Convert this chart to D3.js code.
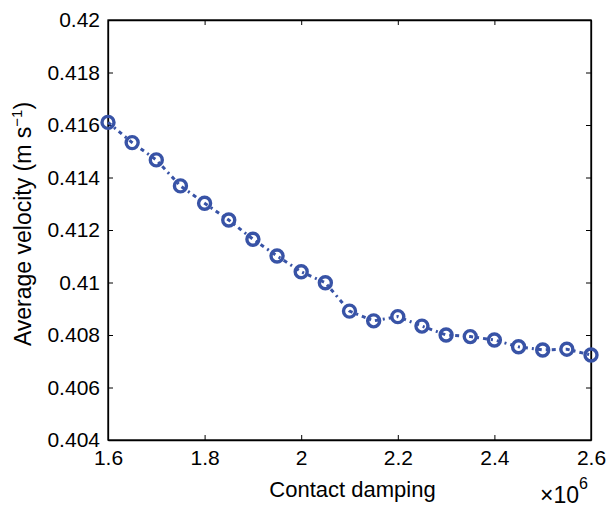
<!DOCTYPE html>
<html>
<head>
<meta charset="utf-8">
<script src="https://cdn.jsdelivr.net/npm/d3@7"></script>
<style>
  body { margin: 0; background: #fff; }
  text { font-family: "Liberation Sans", Arial, Helvetica, sans-serif; fill: #000; }
</style>
</head>
<body>
<div id="chart"></div>
<script>
// contact damping (x 1e6) and average velocity (m/s)
var damping = [1.6, 1.65, 1.7, 1.75, 1.8, 1.85, 1.9, 1.95, 2.0, 2.05, 2.1,
               2.15, 2.2, 2.25, 2.3, 2.35, 2.4, 2.45, 2.5, 2.55, 2.6];
var velocity = [0.4161, 0.41533, 0.41467, 0.41368, 0.41302, 0.41238, 0.41165,
                0.41101, 0.41041, 0.40999, 0.40891, 0.40854, 0.40870, 0.40834,
                0.40800, 0.40794, 0.40781, 0.40755, 0.40743, 0.40746, 0.40724];
var xTicks = [1.6, 1.8, 2.0, 2.2, 2.4, 2.6];
var yTicks = [0.404, 0.406, 0.408, 0.41, 0.412, 0.414, 0.416, 0.418, 0.42];

var width = 609, height = 508;
var mLeft = 108, mRight = 591, mTop = 20, mBottom = 440;
var blue = "#3853a6";

var svg = d3.select("#chart").append("svg")
    .attr("width", width)
    .attr("height", height);

var x = d3.scaleLinear().domain([1.6, 2.6]).range([mLeft, mRight]);
var y = d3.scaleLinear().domain([0.404, 0.42]).range([mBottom, mTop]);

var fmt = function(d) { return String(+d.toFixed(3)); };

// axes, ticks pointing inward
svg.append("g")
    .attr("transform", "translate(0," + mBottom + ")")
    .call(d3.axisBottom(x).tickValues(xTicks).tickSizeInner(-5).tickSizeOuter(0)
        .tickPadding(10).tickFormat(d => String(+d.toFixed(1))));
svg.append("g")
    .attr("transform", "translate(0," + mTop + ")")
    .call(d3.axisTop(x).tickValues(xTicks).tickSizeInner(-5).tickSizeOuter(0).tickFormat(""));
svg.append("g")
    .attr("transform", "translate(" + mLeft + ",0)")
    .call(d3.axisLeft(y).tickValues(yTicks).tickSizeInner(-5).tickSizeOuter(0)
        .tickPadding(8).tickFormat(fmt));
svg.append("g")
    .attr("transform", "translate(" + mRight + ",0)")
    .call(d3.axisRight(y).tickValues(yTicks).tickSizeInner(-5).tickSizeOuter(0).tickFormat(""));

svg.selectAll(".domain").attr("stroke", "#000").attr("stroke-width", 1.3);
svg.selectAll(".tick line").attr("stroke", "#000").attr("stroke-width", 1);
svg.selectAll(".tick text")
    .style("font-family", "'Liberation Sans', Arial, sans-serif")
    .style("font-size", "21px")
    .attr("fill", "#000");

// box
svg.append("rect")
    .attr("x", mLeft).attr("y", mTop)
    .attr("width", mRight - mLeft).attr("height", mBottom - mTop)
    .attr("fill", "none").attr("stroke", "#000").attr("stroke-width", 1.3);

var pts = damping.map((d, i) => [d, velocity[i]]);

var line = d3.line().x(d => x(d[0])).y(d => y(d[1]));

svg.append("path")
    .datum(pts)
    .attr("d", line)
    .attr("fill", "none")
    .attr("stroke", blue)
    .attr("stroke-width", 3)
    .attr("stroke-dasharray", "4,4,2,4");

svg.append("g")
    .selectAll("circle")
    .data(pts)
    .enter()
    .append("circle")
    .attr("cx", d => x(d[0]))
    .attr("cy", d => y(d[1]))
    .attr("r", 6)
    .attr("fill", "none")
    .attr("stroke", blue)
    .attr("stroke-width", 3.4);

// labels
svg.append("text")
    .attr("x", (mLeft + mRight) / 2 + 3)
    .attr("y", 497)
    .attr("text-anchor", "middle")
    .style("font-size", "22px")
    .text("Contact damping");

var ylab = svg.append("text")
    .attr("transform", "translate(31,224) rotate(-90)")
    .attr("text-anchor", "middle")
    .style("font-size", "23px");
ylab.append("tspan").text("Average velocity (m s");
ylab.append("tspan").attr("dy", -9).style("font-size", "15px").text("\u22121");
ylab.append("tspan").attr("dy", 9).text(")");

var mult = svg.append("text")
    .attr("x", 540)
    .attr("y", 503)
    .style("font-size", "23px");
mult.append("tspan").text("\u00d710");
mult.append("tspan").attr("dy", -14).style("font-size", "16px").text("6");
</script>
</body>
</html>
